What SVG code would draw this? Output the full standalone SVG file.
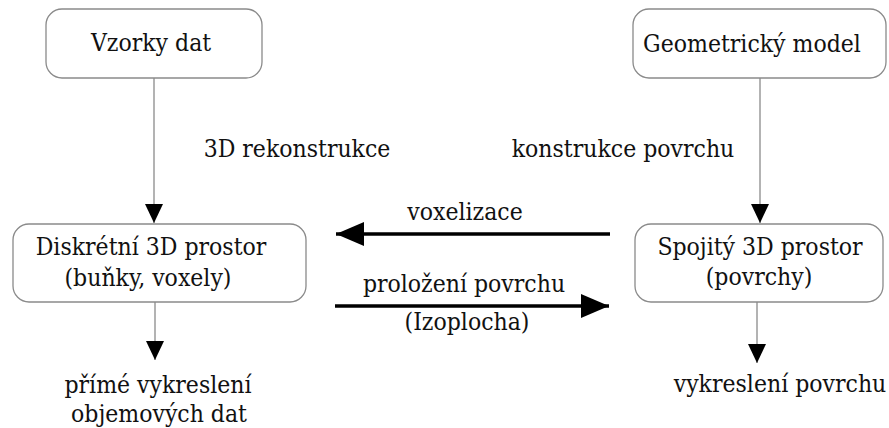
<svg xmlns="http://www.w3.org/2000/svg" width="889" height="428" viewBox="0 0 889 428" font-family="DejaVu Serif Condensed, DejaVu Serif, serif">
<style>
text{font-size:24.5px;fill:#111;text-anchor:middle}
.box{fill:#fff;stroke:#8a8a8a;stroke-width:1.3}
.thin{stroke:#8a8a8a;stroke-width:1.3;fill:none}
.thick{stroke:#000;stroke-width:3.5;fill:none}
</style>
<defs>
<marker id="ah" markerUnits="userSpaceOnUse" markerWidth="20" markerHeight="20" viewBox="0 0 20 20" refX="19" refY="9" orient="auto"><path d="M0,0 L19,9 L0,18 Z" fill="#000"/></marker>
<marker id="ahb" markerUnits="userSpaceOnUse" markerWidth="30" markerHeight="26" viewBox="0 0 30 26" refX="28" refY="12" orient="auto"><path d="M0,0 L28,12 L0,24 Z" fill="#000"/></marker>
</defs>
<rect width="889" height="428" fill="#fff"/>
<g id="connectors">
<line class="thin" x1="154" y1="78" x2="154" y2="223" marker-end="url(#ah)"/>
<line class="thin" x1="760" y1="78" x2="760" y2="223" marker-end="url(#ah)"/>
<line class="thin" x1="155" y1="302" x2="155" y2="360" marker-end="url(#ah)"/>
<line class="thin" x1="757" y1="302" x2="757" y2="363" marker-end="url(#ah)"/>
<line class="thick" x1="610" y1="234" x2="336" y2="234" marker-end="url(#ahb)"/>
<line class="thick" x1="335" y1="306" x2="609" y2="306" marker-end="url(#ahb)"/>
<text x="297" y="157">3D rekonstrukce</text>
<text x="623" y="157">konstrukce povrchu</text>
<text x="465" y="220">voxelizace</text>
<text x="464" y="292">proložení povrchu</text>
<text x="467" y="330">(Izoplocha)</text>
<text x="158" y="393">přímé vykreslení</text>
<text x="159" y="422">objemových dat</text>
<text x="780" y="392">vykreslení povrchu</text>
</g>
<g id="n1"><rect class="box" x="46" y="9" width="216" height="69" rx="16"/><text x="151" y="51">Vzorky dat</text></g>
<g id="n2"><rect class="box" x="633" y="9" width="253" height="69" rx="16"/><text x="752" y="52">Geometrický model</text></g>
<g id="n3"><rect class="box" x="13" y="224" width="293" height="78" rx="16"/><text x="151" y="255">Diskrétní 3D prostor</text><text x="148" y="286">(buňky, voxely)</text></g>
<g id="n4"><rect class="box" x="635" y="224" width="248" height="78" rx="16"/><text x="760" y="255">Spojitý 3D prostor</text><text x="759" y="285">(povrchy)</text></g>
</svg>
